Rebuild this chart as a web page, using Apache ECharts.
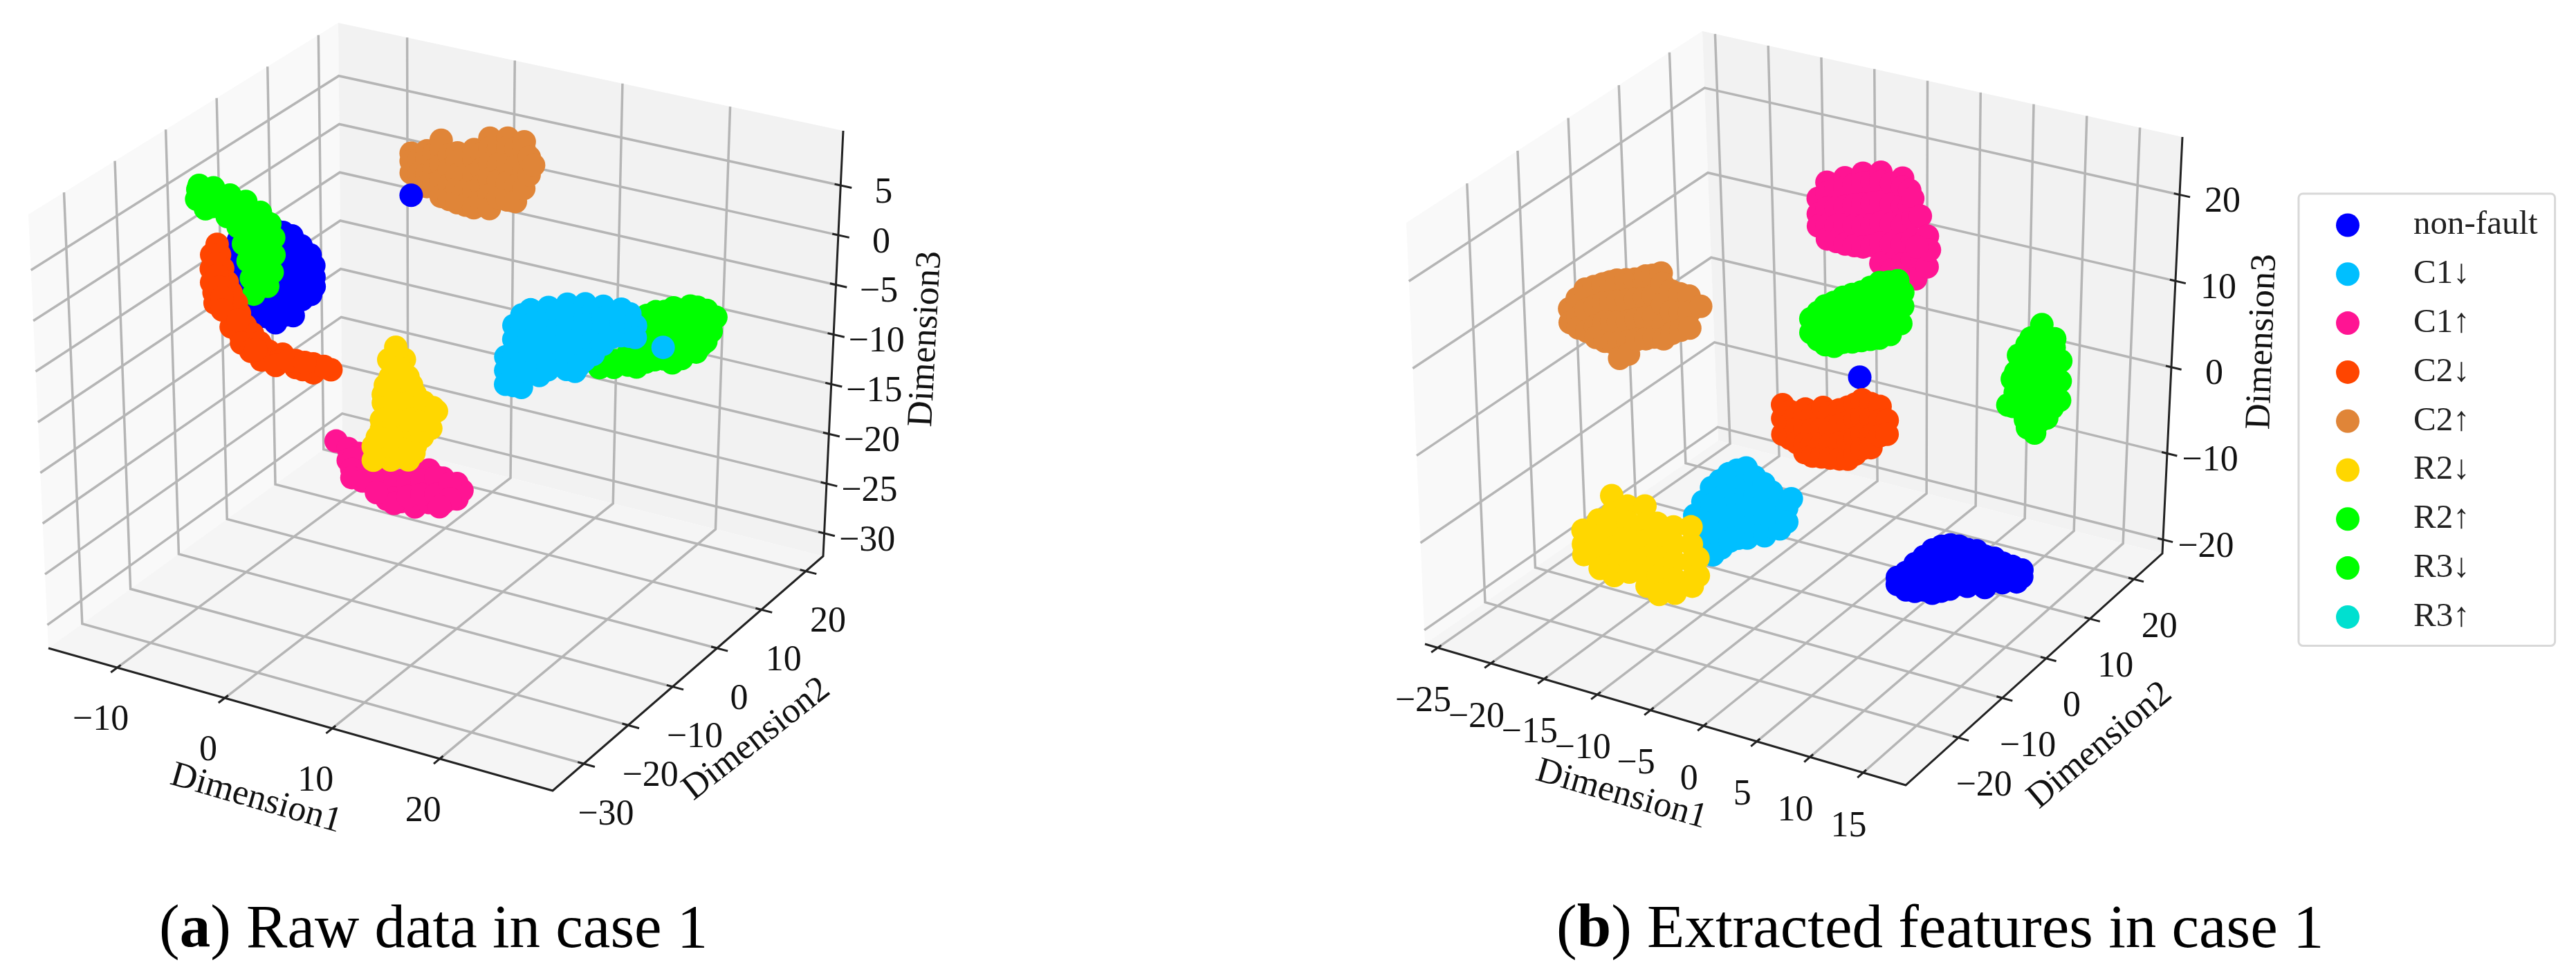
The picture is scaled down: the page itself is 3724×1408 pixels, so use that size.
<!DOCTYPE html>
<html>
<head>
<meta charset="utf-8">
<style>html,body{margin:0;padding:0;background:#fff}#c{width:3724px;height:1408px}</style>
<script src="https://cdn.jsdelivr.net/npm/echarts@6/dist/echarts.min.js"></script>
</head>
<body>
<div id="c"></div>
<script>
// ---------- tick labels ----------
const leftTicksX = [-10, 0, 10, 20];
const leftTicksY = [-30, -20, -10, 0, 10, 20];
const leftTicksZ = [-30, -25, -20, -15, -10, -5, 0, 5];
const rightTicksX = [-25, -20, -15, -10, -5, 0, 5, 10, 15];
const rightTicksY = [-20, -10, 0, 10, 20];
const rightTicksZ = [-20, -10, 0, 10, 20];
const seriesNames = ['non-fault', 'C1↓', 'C1↑', 'C2↓', 'C2↑', 'R2↓', 'R2↑', 'R3↓', 'R3↑'];

// ---------- values: rows of [Dimension1, Dimension2, [Dimension3 ...]] ----------
const aNonFault = [
  [-2.6,8.65,[1.24]],
  [-13.27,-6.55,[-3.13,-4.87,-6.26]],[-12.45,-6.55,[-1.7,-3.45,-5.2,-6.9]],
  [-11.62,-6.55,[-0.57,-2.31,-4.05,-5.79,-7.53]],[-10.8,-6.55,[0,-1.6,-3.4,-5.1,-6.9]],
  [-9.98,-6.55,[0.79,-0.95,-2.69,-4.43,-6.17,-7.91]],[-9.15,-6.55,[1.1,-0.65,-2.4,-4.1,-5.9,-7.6]],
  [-8.33,-6.55,[1.4,-0.34,-2.08,-3.82,-5.56,-7.3,-7.99]],[-7.5,-6.55,[1.3,-0.45,-2.2,-3.95,-5.7,-7.0]],
  [-6.68,-6.55,[1.17,-0.57,-2.31,-4.05,-5.79,-6.84]],[-5.85,-6.55,[0.4,-1.4,-3.2,-5.0]],
  [-5.03,-6.55,[-0.31,-2.19,-4.28]],[-4.7,-6.55,[-1.3,-2.45,-3.4]]
];
const aR2Up = [
  [-15.25,-6.55,[3.62]],[-13.93,-6.55,[3.79,2.26]],[-12.28,-6.55,[3.21]],[-10.64,-6.55,[2.7]],
  [-9.45,-6.55,[1.78]],[-9.25,-6.55,[0.1]],[-9.19,-6.55,[-1.62]],[-9.38,-6.55,[-3.42]],
  [-9.98,-6.55,[-4.78,1.28]],[-10.31,-6.55,[-5.63,0.49,-2.5]],[-15.38,-6.55,[2.61]],[-12.61,-6.55,[1.58]],
  [-11.62,-6.55,[0.82]],[-11.16,-6.55,[-0.79]],[-10.77,-6.55,[-2.42,-0.02]],[-10.5,-6.55,[-4.09,-0.96]],
  [-10.11,-6.55,[-1.2]],[-9.91,-6.55,[-2.88]],[-11.3,-6.55,[2.65]],[-13.27,-6.55,[3.27]],
  [-14.59,-6.55,[3.32,1.86]],[-13.14,-6.55,[2.76]],[-11.95,-6.55,[2.46]],[-10.97,-6.55,[1.49]],
  [-9.65,-6.55,[-0.36,-4.54]],[-9.45,-6.55,[-2.05]],[-9.84,-6.55,[-3.9]],[-15.12,-6.55,[4.08]],[-13.8,-6.55,[4.17]],
  [-12.31,-6.55,[3.83]],[-10.86,-6.55,[3.55]],[-9.54,-6.55,[2.8]],[-8.69,-6.55,[1.86]],[-8.36,-6.55,[0.56,-1.18]],
  [-8.56,-6.55,[-2.97]],[-9.0,-6.55,[-4.49]]
];
const aC2Down = [
  [-13.6,-6.55,[-1.48]],[-14.13,-6.55,[-2.67]],[-13.4,-6.55,[-2.47]],[-14.2,-6.55,[-4.09,-5.48]],
  [-13.14,-6.55,[-3.79]],[-12.75,-6.55,[-5.07]],[-14.0,-6.55,[-6.46]],[-12.42,-6.55,[-6.02]],
  [-13.93,-6.55,[-7.49]],[-12.88,-6.55,[-7.2]],[-11.95,-6.55,[-6.94]],[-12.48,-6.55,[-8.26,-9.51]],
  [-11.68,-6.55,[-7.93]],[-11.16,-6.55,[-9.03,-10.42]],[-11.62,-6.55,[-10.11,-9.27]],[-10.5,-6.55,[-9.69]],
  [-11.55,-6.55,[-10.88]],[-9.84,-6.55,[-10.4]],[-10.7,-6.55,[-11.48]],[-9.05,-6.55,[-11.02,-11.92]],
  [-7.73,-6.55,[-10.99]],[-9.71,-6.55,[-12.1]],[-8.06,-6.55,[-11.78]],[-8.39,-6.55,[-12.29]],
  [-6.53,-6.55,[-11.31,-12.01]],[-4.89,-6.55,[-11.2,-12.1]],[-3.24,-6.55,[-11.36]],[-3.9,-6.55,[-11.2]],
  [-5.87,-6.55,[-12.04]],[-13.73,-6.55,[-3.47]],[-13.67,-6.55,[-4.63]],[-13.47,-6.55,[-5.76]],
  [-13.27,-6.55,[-6.75,-8.0]],[-11.82,-6.55,[-8.64]],[-10.23,-6.55,[-11.21]],[-7.2,-6.55,[-11.54]],[-5.68,-6.55,[-11.28]]
];
const aC2Up = [
  [-2.59,8.65,[5.5,4.7,3.53]],[-1.86,8.65,[5.0,3.6,2.6]],[-1.14,8.65,[6.1,5.31,3.73,2.49]],[-0.48,8.65,[5.95,4.35,2.9]],
  [0.18,8.65,[7.5,6.57,4.99,3.4,1.82]],[0.93,8.65,[6.2,4.7,3.15,1.7]],[1.69,8.65,[6.6,5.76,4.38,2.94,1.56]],
  [2.45,8.65,[6.1,4.55,3.0,1.5]],[3.21,8.65,[7.3,6.39,4.74,3.08,1.43]],[3.93,8.65,[7.1,5.5,3.85,2.2]],
  [4.66,8.65,[8.8,7.82,6.24,4.65,3.07,1.7]],[5.48,8.65,[8.05,6.4,4.7,3.0]],[6.31,8.65,[9.2,8.28,6.56,4.77,2.98]],
  [7.06,8.65,[8.35,6.5,4.6,3.0]],[7.82,8.65,[9.2,8.42,6.43,4.5]],[8.3,8.65,[7.75,6.0]],[8.7,8.65,[7.07]]
];
const aR2Down = [
  [2.81,-6.55,[-7.51]],[2.15,-6.55,[-8.93]],[3.6,-6.55,[-8.52,-13.7,-17.14]],[2.28,-6.55,[-10.62,-18.9]],
  [3.93,-6.55,[-10.16,-18.44,-16.16]],[1.62,-6.55,[-12.53,-13.36]],[3.14,-6.55,[-12.1]],[4.59,-6.55,[-11.7,-15.15,-16.87]],
  [1.95,-6.55,[-14.16]],[5.25,-6.55,[-13.24,-15.79]],[6.04,-6.55,[-13.02,-14.74]],[1.43,-6.55,[-16.03,-15.13,-18.45]],
  [2.94,-6.55,[-15.61,-11.26,-18.03]],[0.64,-6.55,[-17.97,-19.36]],[2.09,-6.55,[-17.57]],
  [2.88,-6.55,[-8.04]],[3.07,-6.55,[-9.5]],[4.26,-6.55,[-10.89]],[1.82,-6.55,[-11.57]],
  [2.61,-6.55,[-13.08,-14.8]],[4.06,-6.55,[-12.68,-14.4]],[5.38,-6.55,[-12.31,-14.03]],
  [1.03,-6.55,[-16.97]],[2.41,-6.55,[-16.59]],[4.46,-6.55,[-17.6]],[6.24,-6.55,[-12.62]],[6.57,-6.55,[-12.88]]
];
const aC1Up = [
  [-2.84,-6.55,[-18.39]],[-1.72,-6.55,[-18.84,-20.02]],[-0.73,-6.55,[-19.05,-21.46]],[-0.6,-6.55,[-20.39]],
  [0.59,-6.55,[-20.4,-21.78]],[1.9,-6.55,[-20.72,-22.24,-22.93]],[3.22,-6.55,[-20.71,-21.6,-22.78]],
  [4.54,-6.55,[-19.99,-21.23,-22.54,-22.96]],[5.86,-6.55,[-18.93,-20.51,-22.17]],[7.18,-6.55,[-19.39,-20.63,-21.87]],
  [8.49,-6.55,[-19.57,-21.09]],[8.96,-6.55,[-20.13]],
  [-1.2,-6.55,[-19.66]],[-0.07,-6.55,[-20.94]],[1.25,-6.55,[-21.26,-22.43]],[2.56,-6.55,[-21.43,-22.61,-23.16]],
  [3.88,-6.55,[-20.86,-22.1]],[5.2,-6.55,[-20.15,-21.53]],[6.52,-6.55,[-19.44,-21.17]],[7.84,-6.55,[-19.76,-21.28]],
  [-1.39,-6.55,[-20.82,-21.65]],[6.85,-6.55,[-22.31]],[-0.4,-6.55,[-21.72]],[0.91,-6.55,[-22.52]]
];
const aC1Down = [
  [12.99,-6.55,[-5.8,-7.16,-8.53]],[13.72,-6.55,[-2.51,-3.88,-5.38,-6.95,-8.46]],
  [14.45,-6.55,[-1.28,-2.86,-4.5,-6.14,-7.78,-8.46]],[15.24,-6.55,[-0.58,-2.09,-3.59,-5.1,-6.74]],
  [16.09,-6.55,[-1.04,-2.54,-4.05,-5.55,-6.85]],[16.88,-6.55,[0.07,-1.5,-3.01,-4.58,-6.08]],
  [17.74,-6.55,[-0.24,-1.95,-3.66,-5.37]],[18.6,-6.55,[0.83,-0.82,-2.53,-4.24,-5.6]],
  [19.39,-6.55,[0.43,-1.07,-2.58,-4.08,-5.59]],[20.24,-6.55,[1.28,-0.16,-1.6,-3.1,-4.26]],
  [21.03,-6.55,[0.81,-0.62,-2.06,-3.5]],[19.72,-6.55,[-4.95]],[21.89,-6.55,[1.46,0.23,-1.14,-2.3]],
  [22.68,-6.55,[0.86,-0.37,-1.4]],[23.54,-6.55,[1.58,0.35,-1.02]],[24.33,-6.55,[1.32,0.09,-0.87]],[24.86,-6.55,[0.3,-0.86]],[27.43,-6.55,[-1.18]]
];
const aR3Down = [
  [19.03,-0.46,[-7.44]],[20.35,-0.46,[-7.08,-6.4]],[21.67,-0.46,[-6.51,-5.36]],[22.46,-0.46,[-1.75,-3.44,-5.14,-6.5]],
  [23.32,-0.46,[-1.18,-2.88,-4.57,-5.79]],[24.11,-0.46,[-0.62,-2.32,-4.01,-5.37]],[24.96,-0.46,[-0.38,-2.08,-3.77,-5.06]],
  [25.75,-0.46,[0.17,-1.32,-2.75,-4.24,-5.26]],[26.61,-0.46,[0.07,-1.63,-3.32,-4.61]],[27.27,-0.46,[0.72,-0.63,-2.12,-3.82]],
  [27.93,-0.46,[0.77,-0.93,-2.62,-3.64]],[28.79,-0.46,[0.67,-0.89,-2.38]],
  [29.64,-0.46,[0.22]],[29.25,-0.46,[-1.25]],[28.39,-0.46,[-2.83]]
];
const bNonFault = [
  [1.92,-2.75,[6.2]],[5.6,-2.75,[-15.45,-16.23]],[6.45,-2.75,[-14.6,-15.6,-16.6]],[7.3,-2.75,[-13.36,-15.15,-16.48]],
  [8.15,-2.75,[-12.3,-14.27,-16.06]],[8.99,-2.75,[-11.26,-13.36,-15.39,-16.17]],[9.83,-2.75,[-10.6,-12.55,-14.5,-15.67]],
  [10.68,-2.75,[-10.18,-12.29,-14.39,-15.17]],[11.53,-2.75,[-10.06,-12.01,-14.35]],[12.37,-2.75,[-10.19,-12.14,-14.32]],
  [13.2,-2.75,[-10.06,-12.01,-13.64]],[14.06,-2.75,[-10.43,-11.99,-13.16,-13.94]],[14.9,-2.75,[-10.37,-12.08]],
  [15.75,-2.75,[-10.68,-12.08,-12.86]],[16.66,-2.75,[-10.76,-12.16]],[17.1,-2.75,[-12.36]],[17.58,-2.75,[-10.88,-11.66]]
];
const bC1Down = [
  [-14.03,-2.75,[-14.56,-16.55]],[-13.2,-2.75,[-12.71,-14.7,-16.69,-18.28]],
  [-12.34,-2.75,[-10.83,-12.82,-14.81,-16.8,-18.55]],[-11.5,-2.75,[-9.77,-11.76,-13.75,-15.74,-17.49]],
  [-10.65,-2.75,[-8.7,-10.69,-12.68,-14.67,-16.42]],[-9.84,-2.75,[-8.04,-10.03,-12.02,-14.01,-15.84]],
  [-8.96,-2.75,[-7.51,-9.58,-11.65,-13.72,-15.55]],[-8.15,-2.75,[-8.28,-10.35,-12.42,-14.49]],
  [-7.27,-2.75,[-8.79,-10.78,-12.77,-14.76]],[-6.53,-2.75,[-9.51,-11.5,-13.49]],
  [-5.78,-2.75,[-10.3,-11.9,-13.49]],[-5.1,-2.75,[-10.89,-12.48]],[-4.64,-2.75,[-9.69]]
];
const bR2Down = [
  [-22.1,-8.6,[-16.5,-18.1,-19.3]],[-20.55,-8.6,[-14.8,-16.64,-18.4,-20.4]],
  [-19.2,-8.6,[-11.56,-13.56,-15.56,-17.56,-19.56,-20.76]],[-17.71,-8.6,[-12.28,-14.12,-16.04,-17.96,-19.88]],
  [-16.02,-8.6,[-11.73,-13.73,-15.73,-17.73,-19.73,-20.93]],[-14.87,-8.6,[-13.35,-15.35,-17.35,-19.35,-21.51]],
  [-13.31,-8.6,[-13.25,-15.25,-17.25,-19.25,-20.85]],[-11.62,-8.6,[-12.7,-14.7,-16.7,-18.7,-19.5]],[-11.01,-8.6,[-16.1,-18.1]]
];
const bC1Up = [
  [-8.6,11.87,[17.8,16,14.6]],[-7.76,11.87,[19.9,18.69,16.88,14.91,13.34]],[-6.9,11.87,[19.5,17.2,15.1,13.3]],
  [-6.07,11.87,[20.9,19.78,17.57,15.45,13.24]],[-5.2,11.87,[20.4,18,15.6,13.3]],[-4.38,11.87,[21.9,20.79,18.35,15.83,13.39]],
  [-3.5,11.87,[21.2,18.7,16.2,13.8]],[-2.69,11.87,[22.5,21.41,19.04,16.68,14.32,11.96]],[-1.7,11.87,[21.5,19.1,16.8,14.5,12.2]],
  [-1.65,11.87,[11.5]],[-0.66,11.87,[22.4,21.35,19.15,16.94,14.74,12.46,11.28]],[0.01,11.87,[21.17,19.36]],[0.3,11.87,[20.3,18,15.6,13.2]],
  [0.62,11.87,[11.14]],[1.02,11.87,[18.49]],[1.2,11.87,[15.4,13.6]],[1.7,11.87,[16.37,12.83]],[1.9,11.87,[14.83]],[0.71,11.87,[14.86]]
];
const bR2Up = [
  [-2.67,-2.75,[11.5,9.92]],[-2.0,-2.75,[12.4,10.7,9.3]],[-1.32,-2.75,[13.35,11.54,10.2,8.93]],[-0.5,-2.75,[14,12.2,10.5,9.0]],
  [0.37,-2.75,[14.84,13.11,11.37,9.72]],[1.2,-2.75,[15.4,13.5,11.7,10]],[2.06,-2.75,[15.93,14.04,12.22,10.41]],
  [2.9,-2.75,[16.7,14.7,12.7,10.8]],[3.75,-2.75,[17.5,15.37,13.32,11.19]],[4.6,-2.75,[17.8,16,14,12.2]],
  [4.76,-2.75,[11.9]],[5.44,-2.75,[18.21,16.63,14.89,13.47]],[5.75,-2.75,[13.43]],[5.91,-2.75,[17.01,15.44]]
];
const bC2Down = [
  [-5.4,-2.75,[0.85,-0.73,-2.55]],[-4.7,-2.75,[0.3,-1.1,-2.8]],[-4.05,-2.75,[0.1,-1.48,-3.07]],[-3.3,-2.75,[0.3,-1.3,-3,-4.0]],
  [-3.24,-2.75,[1.0]],[-2.57,-2.75,[0.5,-1.16,-2.82,-4.17]],[-1.7,-2.75,[0.9,-0.8,-2.5,-4.0]],[-1.55,-2.75,[1.7]],[-0.88,-2.75,[1.28,-0.46,-2.2,-3.87]],
  [0,-2.75,[1.9,0.1,-1.9,-3.7]],[0.81,-2.75,[2.46,0.72,-1.5,-3.48]],[1.5,-2.75,[3.0,1.2,-0.9,-2.7]],
  [2.16,-2.75,[3.69,1.71,-0.27,-1.86]],[3.0,-2.75,[3.5,1.8,-0.1,-1.5]],[3.85,-2.75,[3.44,1.86,0.12]],[4.53,-2.75,[2.07,0.49]]
];
const bC2Up = [
  [-25.46,-2.75,[5.79,4.19]],[-24.7,-2.75,[7.2,5,3.8]],[-23.9,-2.75,[8.54,6.14,3.66]],[-23.05,-2.75,[9.1,6.8,4.5,3.2]],
  [-22.21,-2.75,[9.66,7.49,5.25,3.01]],[-21.5,-2.75,[10.1,7.8,5.5,3.1]],[-20.86,-2.75,[10.5,8.09,5.69,3.29,1.44]],
  [-20,-2.75,[10.8,8.4,6,3.7,2.2]],[-19.17,-2.75,[11.12,8.8,6.48,4.15]],[-18.3,-2.75,[11.6,9.3,6.9,4.5]],[-18.16,-2.75,[11.78]],
  [-17.48,-2.75,[12.07,9.75,7.35,4.94]],[-16.67,-2.75,[12.58]],[-16.6,-2.75,[11.4,9,6.6,5]],[-15.79,-2.75,[10.78,8.38,5.9]],
  [-14.95,-2.75,[10.7,8.6,6.5]],[-14.1,-2.75,[10.69,8.85,7]],[-13.02,-2.75,[9.84]]
];
const bR3Down = [
  [10.87,8.95,[0.83]],[11.24,8.95,[3.9]],[11.37,8.95,[0.82]],[11.55,8.95,[4.78,2.45]],[11.78,8.95,[6.79]],[12.0,8.95,[6.9,4.9,2.9,1.1]],
  [12.56,8.95,[8.21,5.88,3.93,1.99,0.04]],[12.59,8.95,[-0.34]],[12.8,8.95,[-1.2]],[12.93,8.95,[9.09]],[13.2,8.95,[8.9,6.7,4.7,2.7,0.7]],
  [13.5,8.95,[-1.6]],[13.91,8.95,[10.9,9.58,7.47,5.37,3.2,1.25,-0.15]],[14.5,8.95,[9.1,6.9,4.7,2.5,0.5]],[14.62,8.95,[0.45]],
  [14.96,8.95,[1.96]],[15.13,8.95,[8.63,6.3,3.97,1.79]],[15.16,8.95,[9.65,7.47,4.74]],[15.8,8.95,[7.3,5,2.8]]
];
const emptySeries = [];

// ---------- style and layout ----------
const palette = {'non-fault':'#0000ff','C1↓':'#00bfff','C1↑':'#ff1493','C2↓':'#ff4500','C2↑':'#e08538',
                 'R2↓':'#ffd700','R2↑':'#00ff00','R3↓':'#00ff00','R3↑':'#00e0d0'};
const serif = '"Liberation Serif","Times New Roman",serif';
const MARK = 34;
const panels = [
 { lim:{x:[-16.4,30.5],y:[-37,23.9],z:[-32.3,10.5]},
   corners:{ '000':[70,937],'001':[41,310],'100':[799,1143],'101':[804,493],
             '010':[495,630],'011':[489,33],'110':[1190,804],'111':[1219,189] },
   ticks:{x:leftTicksX,y:leftTicksY,z:leftTicksZ},
   off:{x:[-24,76],y:[32,74],z:[62,11]},
   names:[['Dimension1',370,1155,-16],['Dimension2',1094,1069,38],['Dimension3',1339,490,87]],
   draw:[['C2↑',aC2Up],['non-fault',aNonFault],['R2↑',aR2Up],['C2↓',aC2Down],['C1↑',aC1Up],['R2↓',aR2Down],['R3↓',aR3Down],['C1↓',aC1Down],['R3↑',emptySeries]] },
 { lim:{x:[-26.2,19],y:[-32,26.5],z:[-21.6,26.7]},
   corners:{ '000':[2060,931],'001':[2033,322],'100':[2755,1135],'101':[2760,495],
             '010':[2484,637],'011':[2461,45],'110':[3126,800],'111':[3155,198] },
   ticks:{x:rightTicksX,y:rightTicksY,z:rightTicksZ},
   off:{x:[-21,78],y:[37,70],z:[62,11]},
   names:[['Dimension1',2344,1149,-16],['Dimension2',3036,1078,40],['Dimension3',3271,494,88]],
   draw:[['non-fault',bNonFault],['C1↓',bC1Down],['R2↓',bR2Down],['C1↑',bC1Up],['R2↑',bR2Up],['C2↓',bC2Down],['C2↑',bC2Up],['R3↓',bR3Down],['R3↑',emptySeries]] }
];

function projector(p){
  const f=(v,[a,b])=>(v-a)/(b-a);
  return (x,y,z)=>{
    const u=f(x,p.lim.x),v=f(y,p.lim.y),w=f(z,p.lim.z);
    const out=[0,0];
    for(const i of [0,1])for(const j of [0,1])for(const k of [0,1]){
      const g=(i?u:1-u)*(j?v:1-v)*(k?w:1-w), c=p.corners[''+i+j+k];
      out[0]+=g*c[0]; out[1]+=g*c[1];
    }
    return out;
  };
}
function rangeStep(r,t){return (r[1]-r[0])*t;}

const series=[];
function customPolys(data,z){
  series.push({type:'custom',silent:true,coordinateSystem:'cartesian2d',z,clip:false,
    data:data.map((d,i)=>[i]),
    renderItem:(params,api)=>{
      const d=data[params.dataIndex];
      const pts=d.pts.map(q=>api.coord(q));
      return d.fill
        ?{type:'polygon',shape:{points:pts},style:{fill:d.fill,stroke:null}}
        :{type:'polyline',shape:{points:pts},style:{fill:null,stroke:d.stroke,lineWidth:d.w,lineCap:'butt',lineJoin:'miter'}};
    }});
}
function customTexts(data,z){
  series.push({type:'custom',silent:true,coordinateSystem:'cartesian2d',z,clip:false,
    data:data.map((d,i)=>[i]),
    renderItem:(params,api)=>{
      const d=data[params.dataIndex],c=api.coord([d.X,d.Y]);
      return {type:'text',x:c[0],y:c[1],rotation:(d.r||0)*Math.PI/180,
        style:{text:d.t,fill:'#111',font:'52px '+serif,textAlign:'center',textVerticalAlign:'middle'}};
    }});
}
const label=v=>(v<0?'−'+Math.abs(v):''+v);

panels.forEach(p=>{
  const P=projector(p),{x:lx,y:ly,z:lz}=p.lim;
  customPolys([
    {fill:'#f9f9f9',pts:[P(lx[0],ly[0],lz[0]),P(lx[0],ly[0],lz[1]),P(lx[0],ly[1],lz[1]),P(lx[0],ly[1],lz[0])]},
    {fill:'#f2f2f2',pts:[P(lx[0],ly[1],lz[0]),P(lx[0],ly[1],lz[1]),P(lx[1],ly[1],lz[1]),P(lx[1],ly[1],lz[0])]},
    {fill:'#f5f5f5',pts:[P(lx[0],ly[0],lz[0]),P(lx[1],ly[0],lz[0]),P(lx[1],ly[1],lz[0]),P(lx[0],ly[1],lz[0])]}
  ],1);
  const grid=[],axes=[];
  p.ticks.x.forEach(t=>grid.push({stroke:'#b5b5b5',w:3.5,pts:[P(t,ly[0],lz[0]),P(t,ly[1],lz[0]),P(t,ly[1],lz[1])]}));
  p.ticks.y.forEach(t=>grid.push({stroke:'#b5b5b5',w:3.5,pts:[P(lx[1],t,lz[0]),P(lx[0],t,lz[0]),P(lx[0],t,lz[1])]}));
  p.ticks.z.forEach(t=>grid.push({stroke:'#b5b5b5',w:3.5,pts:[P(lx[0],ly[0],t),P(lx[0],ly[1],t),P(lx[1],ly[1],t)]}));
  customPolys(grid,2);
  axes.push({stroke:'#222',w:3,pts:[P(lx[0],ly[0],lz[0]),P(lx[1],ly[0],lz[0]),P(lx[1],ly[1],lz[0]),P(lx[1],ly[1],lz[1])]});
  const dy=rangeStep(ly,1),dx=rangeStep(lx,1);
  p.ticks.x.forEach(t=>axes.push({stroke:'#222',w:3,pts:[P(t,ly[0]+.012*dy,lz[0]),P(t,ly[0]-.022*dy,lz[0])]}));
  p.ticks.y.forEach(t=>axes.push({stroke:'#222',w:3,pts:[P(lx[1]-.012*dx,t,lz[0]),P(lx[1]+.022*dx,t,lz[0])]}));
  p.ticks.z.forEach(t=>axes.push({stroke:'#222',w:3,pts:[P(lx[1]-.012*dx,ly[1],t),P(lx[1]+.022*dx,ly[1],t)]}));
  customPolys(axes,3);
  const texts=[];
  const addTick=(t,q,o)=>texts.push({t:label(t),X:q[0]+o[0],Y:q[1]+o[1]});
  p.ticks.x.forEach(t=>addTick(t,P(t,ly[0],lz[0]),p.off.x));
  p.ticks.y.forEach(t=>addTick(t,P(lx[1],t,lz[0]),p.off.y));
  p.ticks.z.forEach(t=>addTick(t,P(lx[1],ly[1],t),p.off.z));
  p.names.forEach(n=>texts.push({t:n[0],X:n[1],Y:n[2],r:n[3]}));
  customTexts(texts,4);
  p.draw.forEach(([name,rows],i)=>{
    const pts=[];
    rows.forEach(([x,y,zs])=>zs.forEach(z=>pts.push(P(x,y,z))));
    series.push({type:'scatter',name,data:pts,symbol:'circle',symbolSize:MARK,z:10+i,clip:false,silent:true,
      itemStyle:{color:palette[name],opacity:1},large:false,progressive:0,animation:false});
  });
});

const chart=echarts.init(document.getElementById('c'),null,{renderer:'canvas'});
chart.setOption({
  animation:false,backgroundColor:'#fff',
  title:[
    {text:'({b|a}) Raw data in case 1',left:230,top:1301,padding:0,
     textStyle:{fontFamily:serif,fontSize:89,fontWeight:'normal',color:'#000',rich:{b:{fontFamily:serif,fontSize:89,fontWeight:'bold',color:'#000'}}}},
    {text:'({b|b}) Extracted features in case 1',left:2250,top:1301,padding:0,
     textStyle:{fontFamily:serif,fontSize:89,fontWeight:'normal',color:'#000',rich:{b:{fontFamily:serif,fontSize:89,fontWeight:'bold',color:'#000'}}}}
  ],
  legend:{
    data:seriesNames.map(n=>({name:n,icon:'circle',itemStyle:{color:palette[n]}})),
    orient:'vertical',left:3323,top:280,padding:[21,25,17,54],itemWidth:142,itemHeight:34,itemGap:21.8,
    align:'left',selectedMode:false,
    backgroundColor:'#fff',borderColor:'#d8d8d8',borderWidth:3,borderRadius:6,
    textStyle:{fontFamily:serif,fontSize:49,color:'#222',padding:[0,0,0,19]}
  },
  xAxis:{type:'value',min:0,max:3724,show:false},
  yAxis:{type:'value',min:0,max:1408,inverse:true,show:false},
  grid:{left:0,right:0,top:0,bottom:0},
  tooltip:{show:false},
  series
});
</script>
</body>
</html>
